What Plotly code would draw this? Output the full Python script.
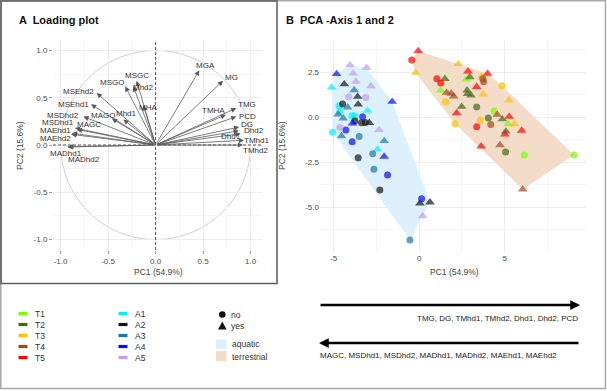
import plotly.graph_objects as go

W, H = 607, 391

# ---------------- Panel A: loadings (PC1 / PC2) ----------------
load_names = ["MGA", "MG", "TMG", "PCD", "TMHA", "DG", "Dhd2", "Dhd1", "TMhd1", "TMhd2",
              "MSGC", "Mhd2", "MSGO", "MHA", "MSEhd2", "MSEhd1", "Mhd1", "MAGO",
              "MSDhd2", "MSDhd1", "MAGC", "MAEhd1", "MAEhd2", "MADhd1", "MADhd2"]
load_pc1 = [0.46, 0.71, 0.85, 0.85, 0.74, 0.88, 0.875, 0.895, 0.93, 0.92,
            -0.20, -0.235, -0.32, -0.13, -0.62, -0.68, -0.34, -0.46,
            -0.76, -0.85, -0.83, -0.88, -0.89, -0.92, -0.93]
load_pc2 = [0.79, 0.68, 0.39, 0.30, 0.32, 0.19, 0.15, 0.12, 0.05, 0.0,
            0.68, 0.62, 0.62, 0.42, 0.55, 0.43, 0.27, 0.28,
            0.30, 0.18, 0.165, 0.125, 0.113, -0.02, -0.02]

# ---------------- Panel B: sample scores ----------------
aq_group = ["A5", "A5", "A4", "A5", "A1", "A2", "A5", "A5", "A3", "A5",
            "A2", "A5", "A4", "A2", "A2", "A1", "A3", "A1", "A3", "A1",
            "A3", "A1", "A1", "A4", "A2", "A4", "A2", "A2", "A2", "A1",
            "A5", "A4", "A3", "A5", "A3", "A4", "A3", "A1", "A3", "A4",
            "A2", "A3", "A4", "A2", "A4", "A2", "A2", "A5", "A3"]
aq_infected = ["yes", "yes", "yes", "yes", "yes", "yes", "yes", "yes", "yes", "no",
               "yes", "no", "yes", "no", "yes", "no", "yes", "yes", "yes", "no",
               "yes", "no", "no", "no", "no", "yes", "no", "yes", "no", "no",
               "no", "no", "yes", "yes", "no", "no", "yes", "yes", "no", "yes",
               "no", "no", "no", "no", "no", "yes", "yes", "yes", "no"]
aq_pc1 = [-4.05, -3.08, -4.83, -3.86, -5.12, -4.38, -3.70, -2.82, -3.80, -4.13,
          -3.60, -3.13, -1.58, -4.48, -3.57, -4.68, -4.19, -3.02, -4.74, -4.64,
          -4.44, -3.95, -3.76, -3.31, -3.76, -3.90, -3.37, -2.92, -3.15, -5.07,
          -4.64, -4.29, -4.54, -2.34, -3.51, -3.92, -2.05, -2.43, -2.72, -2.05,
          -3.57, -2.65, -1.85, -2.30, 0.14, 0.04, 0.63, 0.20, -0.54]
aq_pc2 = [2.89, 2.74, 2.39, 2.43, 1.65, 1.82, 1.96, 1.72, 1.50, 1.13,
          1.13, 1.09, 0.85, 0.72, 0.70, 0.63, 0.54, 0.35, 0.15, 0.30,
          -0.07, 0.07, 0.07, 0.02, -0.22, -0.35, -0.32, -0.32, -0.30, -0.85,
          -0.59, -0.72, -1.06, -0.72, -1.09, -1.37, -1.33, -1.80, -2.04, -2.20,
          -2.26, -2.90, -3.22, -4.06, -4.54, -4.80, -4.74, -5.50, -6.83]

te_group = ["T5", "T5", "T3", "T3", "T5", "T5", "T3", "T5", "T5", "T2",
            "T1", "T2", "T4", "T4", "T3", "T5", "T1", "T4", "T4", "T4",
            "T2", "T2", "T2", "T3", "T3", "T3", "T2", "T2", "T1", "T5",
            "T4", "T5", "T2", "T2", "T3", "T3", "T5", "T4", "T1", "T3",
            "T5", "T2", "T5", "T5", "T4", "T2", "T1", "T1", "T4"]
te_infected = ["yes", "no", "yes", "yes", "yes", "yes", "yes", "no", "no", "yes",
               "yes", "yes", "no", "no", "no", "yes", "yes", "yes", "yes", "yes",
               "yes", "yes", "yes", "yes", "no", "yes", "yes", "no", "no", "yes",
               "yes", "yes", "no", "yes", "no", "no", "no", "no", "yes", "yes",
               "yes", "yes", "yes", "yes", "yes", "no", "no", "no", "yes"]
te_pc1 = [-0.06, -0.44, -0.21, 2.28, 2.85, 4.00, 3.65, 1.03, 1.26, 1.50,
          2.75, 2.96, 3.72, 3.77, 4.83, 3.36, 1.24, 1.60, 1.87, 2.01,
          2.80, 2.82, 3.03, 3.74, 1.54, 5.25, 2.48, 3.36, 4.38, 2.19,
          4.56, 5.26, 4.04, 4.86, 3.58, 2.09, 3.36, 4.18, 5.20, 5.56,
          5.99, 5.07, 5.01, 3.62, 4.72, 5.05, 6.14, 9.05, 6.05]
te_pc2 = [3.67, 3.17, 2.46, 2.95, 2.54, 2.41, 2.26, 2.12, 1.89, 2.12,
          2.09, 2.22, 2.12, 1.96, 1.73, 1.68, 1.48, 1.35, 1.30, 1.15,
          1.48, 1.29, 1.20, 1.26, 0.85, 0.93, 0.57, 0.55, 0.34, 0.22,
          0.13, 0.02, -0.05, -0.12, -0.17, -0.37, -0.54, -0.41, -0.39, -0.39,
          -0.75, -0.80, -0.96, -1.63, -1.56, -1.94, -2.11, -2.11, -4.02]

t_groups = ["T1", "T2", "T3", "T4", "T5"]
a_groups = ["A1", "A2", "A3", "A4", "A5"]
infected_levels = ["no", "yes"]
habitats = ["aquatic", "terrestrial"]
pos_text = "TMG, DG, TMhd1, TMhd2, Dhd1, Dhd2, PCD"
neg_text = "MAGC, MSDhd1, MSDhd2, MADhd1, MADhd2, MAEhd1, MAEhd2"

# ---------------- styles ----------------
FONT = "Liberation Sans, Arial, sans-serif"
group_color = {"T1": "#7CFC00", "T2": "#3F6B12", "T3": "#FFBF00", "T4": "#A34A18", "T5": "#FF0000",
               "A1": "#00F0FF", "A2": "#151515", "A3": "#1C77A3", "A4": "#0A0AF0", "A5": "#C09CF2"}
habitat_fill = {"aquatic": "#DCF1FB", "terrestrial": "#F3DDC8"}
symbol_of = {"no": "circle", "yes": "triangle-up"}
size_of = {"no": 7, "yes": 8.5}
label_offset = {"MGA": (6, -5), "MG": (8, -3), "TMG": (11, -4), "PCD": (11, -0.5), "TMHA": (-12, -4),
                "DG": (8, -3), "Dhd2": (15, 0), "Dhd1": (-10, 3), "TMhd1": (13, 0), "TMhd2": (12, 5),
                "MSGC": (0, -5), "Mhd2": (10, 1), "MSGO": (-13, -4), "MHA": (5, 2), "MSEhd2": (-18, -1),
                "MSEhd1": (-18, 0), "Mhd1": (3, -6), "MAGO": (-9, -3), "MSDhd2": (-20, -1),
                "MSDhd1": (-17, -5), "MAGC": (12, -5), "MAEhd1": (-17, -3), "MAEhd2": (-16, 4),
                "MADhd1": (-2, 7), "MADhd2": (17, 13)}


def PX(x):
    return x / W


def PY(y):
    return 1 - y / H


def convex_hull(xs, ys):
    pts = sorted(set(zip(xs, ys)))

    def cross(o, a, b):
        return (a[0] - o[0]) * (b[1] - o[1]) - (a[1] - o[1]) * (b[0] - o[0])

    lower, upper = [], []
    for p in pts:
        while len(lower) >= 2 and cross(lower[-2], lower[-1], p) <= 0:
            lower.pop()
        lower.append(p)
    for p in reversed(pts):
        while len(upper) >= 2 and cross(upper[-2], upper[-1], p) <= 0:
            upper.pop()
        upper.append(p)
    hull = lower[:-1] + upper[:-1]
    hull.append(hull[0])
    return [p[0] for p in hull], [p[1] for p in hull]


fig = go.Figure()

# ---- Panel B hulls ----
for hab, xs, ys in [("aquatic", aq_pc1, aq_pc2), ("terrestrial", te_pc1, te_pc2)]:
    hx, hy = convex_hull(xs, ys)
    fig.add_trace(go.Scatter(x=hx, y=hy, xaxis="x2", yaxis="y2", mode="lines", fill="toself",
                             fillcolor=habitat_fill[hab], line=dict(width=0), hoverinfo="skip",
                             showlegend=False))

# ---- Panel B points ----
for groups, gcol, infcol, xs, ys in [(t_groups, te_group, te_infected, te_pc1, te_pc2),
                                     (a_groups, aq_group, aq_infected, aq_pc1, aq_pc2)]:
    for g in groups:
        idx = [i for i, v in enumerate(gcol) if v == g]
        fig.add_trace(go.Scatter(
            x=[xs[i] for i in idx], y=[ys[i] for i in idx], xaxis="x2", yaxis="y2",
            mode="markers", showlegend=False, name=g,
            marker=dict(color=group_color[g],
                        symbol=[symbol_of[infcol[i]] for i in idx],
                        size=[size_of[infcol[i]] for i in idx],
                        line=dict(width=0))))

# ---- Panel A arrows and labels ----
annotations = []
for n, x, y in zip(load_names, load_pc1, load_pc2):
    annotations.append(dict(x=x, y=y, ax=0, ay=0, xref="x", yref="y", axref="x", ayref="y",
                            text="", showarrow=True, arrowhead=2, arrowsize=1.3, arrowwidth=0.8,
                            arrowcolor="#5a5a5a", standoff=0, startstandoff=0))
    dx, dy = label_offset[n]
    annotations.append(dict(x=x, y=y, xref="x", yref="y", text=n, showarrow=False,
                            xshift=dx, yshift=-dy, font=dict(family=FONT, size=8, color="#333333")))


def ann(text, x, y, size=8, xanchor="left", color="#333333", bold=False, angle=0):
    annotations.append(dict(x=PX(x), y=PY(y), xref="paper", yref="paper",
                            text=("<b>%s</b>" % text) if bold else text,
                            showarrow=False, xanchor=xanchor, yanchor="middle", textangle=angle,
                            font=dict(family=FONT, size=size, color=color)))


# titles
ann("A  Loading plot", 17, 20, size=11, bold=True, color="#111111")
ann("B  PCA -Axis 1 and 2", 284, 20, size=11, bold=True, color="#111111")
# axis titles
ann("PC1 (54.9%)", 158, 272, size=8.5, xanchor="center", color="#444444")
ann("PC2 (15.6%)", 20, 146, size=8.5, xanchor="center", color="#444444", angle=-90)
ann("PC1 (54.9%)", 455, 272, size=8.5, xanchor="center", color="#444444")
ann("PC2 (15.6%)", 282, 146, size=8.5, xanchor="center", color="#444444", angle=-90)

shapes = []
# Panel A circle and dashed axes
shapes.append(dict(type="circle", xref="x", yref="y", x0=-1, y0=-1, x1=1, y1=1,
                   line=dict(color="#cfcfcf", width=1), layer="below"))
shapes.append(dict(type="line", xref="x", yref="y", x0=0, x1=0, y0=-1.11, y1=1.11,
                   line=dict(color="#555555", width=1, dash="3px,2px")))
shapes.append(dict(type="line", xref="x", yref="y", x0=-1.08, x1=1.12, y0=0, y1=0,
                   line=dict(color="#555555", width=1, dash="3px,2px")))

# Legend: treatment groups
t_rows = [313.5, 324.5, 335.5, 346.5, 357.5]
for g, yy in zip(t_groups, t_rows):
    shapes.append(dict(type="rect", xref="paper", yref="paper", x0=PX(18.5), x1=PX(27.5),
                       y0=PY(yy + 1.6), y1=PY(yy - 1.6), fillcolor=group_color[g], line=dict(width=0)))
    ann(g, 32.5, yy, size=8.5)
for g, yy in zip(a_groups, t_rows):
    shapes.append(dict(type="rect", xref="paper", yref="paper", x0=PX(118.5), x1=PX(127.5),
                       y0=PY(yy + 1.6), y1=PY(yy - 1.6), fillcolor=group_color[g], line=dict(width=0)))
    ann(g, 132.5, yy, size=8.5)
# Legend: infected shapes
shapes.append(dict(type="circle", xref="paper", yref="paper", x0=PX(219), x1=PX(225.6),
                   y0=PY(317.8), y1=PY(311.2), fillcolor="#111111", line=dict(width=0)))
shapes.append(dict(type="path", xref="paper", yref="paper",
                   path="M %f,%f L %f,%f L %f,%f Z" % (PX(218), PY(329.5), PX(226.6), PY(329.5),
                                                       PX(222.3), PY(321.5)),
                   fillcolor="#111111", line=dict(width=0)))
ann(infected_levels[0], 229.5, 314.5, size=8.5)
ann(infected_levels[1], 229.5, 326, size=8.5)
# Legend: habitat fills
for hab, (y0, y1, ty) in zip(habitats, [(339.3, 349.3, 344.3), (350.8, 361, 356.5)]):
    shapes.append(dict(type="rect", xref="paper", yref="paper", x0=PX(216), x1=PX(226.5),
                       y0=PY(y1), y1=PY(y0), fillcolor=habitat_fill[hab], line=dict(width=0)))
    ann(hab, 230, ty, size=8.5)

# Bottom arrows with variable lists
annotations.append(dict(x=PX(580), y=PY(305), xref="paper", yref="paper", ax=-261, ay=0,
                        axref="pixel", ayref="pixel", text="", showarrow=True, arrowhead=2,
                        arrowsize=0.75, arrowwidth=2.6, arrowcolor="#000000", standoff=0))
ann(pos_text, 580, 318, size=8, xanchor="right", color="#222222")
annotations.append(dict(x=PX(319), y=PY(343), xref="paper", yref="paper", ax=261, ay=0,
                        axref="pixel", ayref="pixel", text="", showarrow=True, arrowhead=2,
                        arrowsize=0.75, arrowwidth=2.6, arrowcolor="#000000", standoff=0))
ann(neg_text, 318, 355.5, size=8, xanchor="left", color="#222222")

# Frames
shapes.append(dict(type="rect", xref="paper", yref="paper", x0=PX(0.8), x1=PX(605.5),
                   y0=PY(388.5), y1=PY(0.8), line=dict(color="#a8a8a8", width=1.5)))
shapes.append(dict(type="rect", xref="paper", yref="paper", x0=PX(1), x1=PX(277),
                   y0=PY(283.5), y1=PY(1), line=dict(color="#5c5c5c", width=1.5)))

tickfont = dict(family=FONT, size=8, color="#4d4d4d")
fig.update_layout(
    width=W, height=H, autosize=False,
    margin=dict(l=0, r=0, t=0, b=0),
    paper_bgcolor="white", plot_bgcolor="white",
    showlegend=False,
    xaxis=dict(domain=[PX(53), PX(262)], range=[-1.08, 1.12], anchor="y",
               tickvals=[-1, -0.5, 0, 0.5, 1], ticktext=["-1.0", "-0.5", "0.0", "0.5", "1.0"],
               ticks="outside", ticklen=3, tickcolor="#9a9a9a", tickfont=tickfont,
               showgrid=True, gridcolor="#ececec", gridwidth=1, zeroline=False, showline=False,
               minor=dict(tickvals=[-0.75, -0.25, 0.25, 0.75], showgrid=True, gridcolor="#f6f6f6")),
    yaxis=dict(domain=[PY(250), PY(40)], range=[-1.11, 1.11], anchor="x",
               tickvals=[-1, -0.5, 0, 0.5, 1], ticktext=["-1.0", "-0.5", "0.0", "0.5", "1.0"],
               ticks="outside", ticklen=3, tickcolor="#9a9a9a", tickfont=tickfont,
               showgrid=True, gridcolor="#ececec", gridwidth=1, zeroline=False, showline=False,
               minor=dict(tickvals=[-0.75, -0.25, 0.25, 0.75], showgrid=True, gridcolor="#f6f6f6")),
    xaxis2=dict(domain=[PX(320), PX(586)], range=[-5.8, 9.75], anchor="y2",
                tickvals=[-5, 0, 5], ticktext=["-5", "0", "5"], ticks="", tickfont=tickfont,
                showgrid=True, gridcolor="#ececec", zeroline=False, showline=False,
                minor=dict(tickvals=[-2.5, 2.5, 7.5], showgrid=True, gridcolor="#f6f6f6")),
    yaxis2=dict(domain=[PY(252), PY(41.4)], range=[-7.5, 4.2], anchor="x2",
                tickvals=[-5, -2.5, 0, 2.5], ticktext=["-5.0", "-2.5", "0.0", "2.5"], ticks="",
                tickfont=tickfont, showgrid=True, gridcolor="#ececec", zeroline=False, showline=False,
                minor=dict(tickvals=[-6.25, -3.75, -1.25, 1.25, 3.75], showgrid=True, gridcolor="#f6f6f6")),
    shapes=shapes,
    annotations=annotations,
)

fig.write_html("out.html")
